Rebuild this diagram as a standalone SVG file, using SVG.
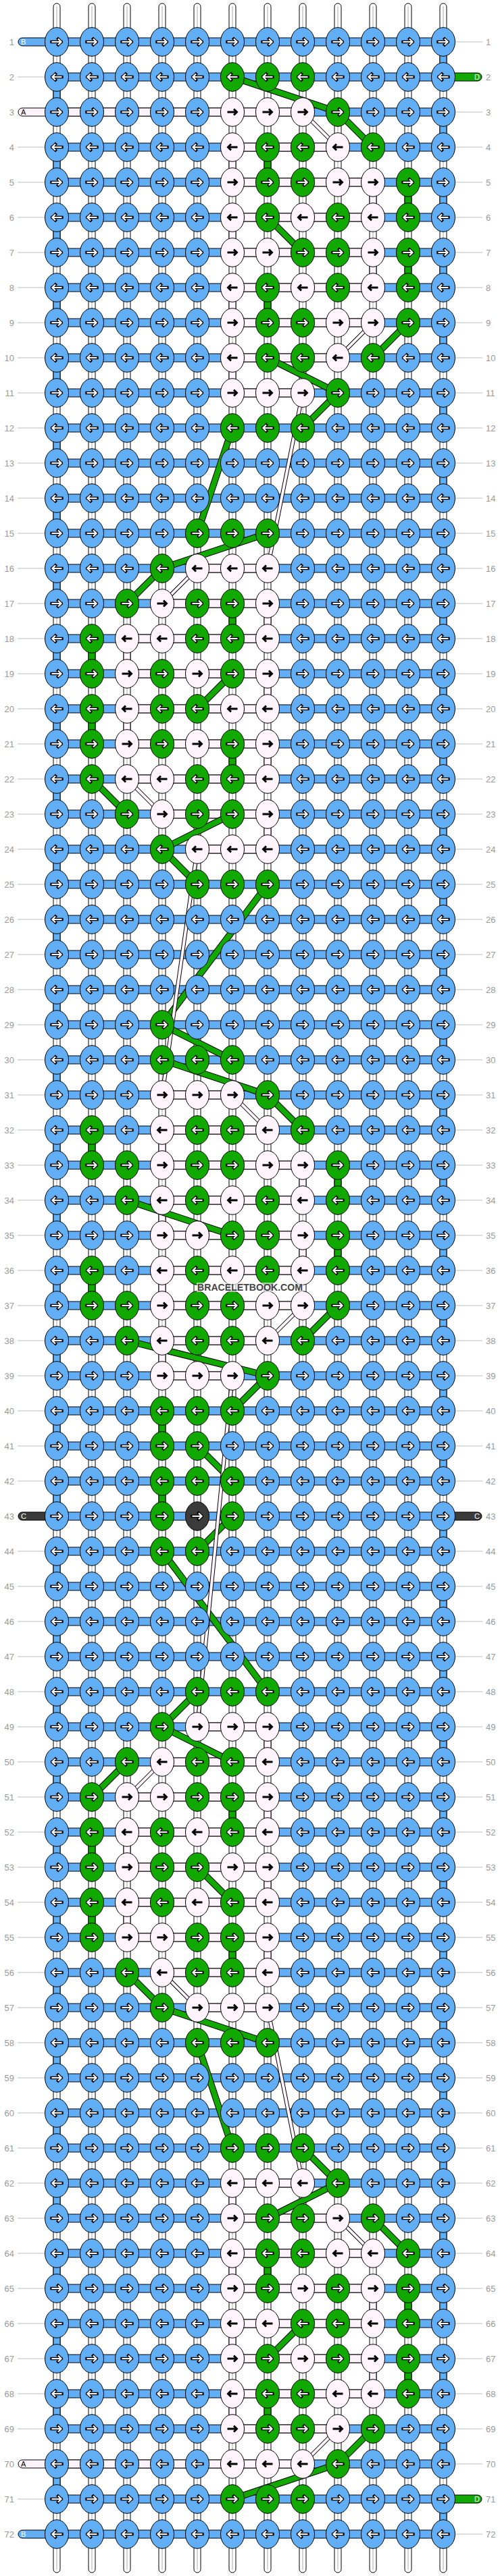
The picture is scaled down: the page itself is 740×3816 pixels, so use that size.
<svg xmlns="http://www.w3.org/2000/svg" xmlns:xlink="http://www.w3.org/1999/xlink" width="740" height="3816" viewBox="0 0 740 3816">
<style>
.kb{fill:#62aef5;stroke:#000;stroke-width:1}
.kg{fill:#11a800;stroke:#000;stroke-width:1}
.kw{fill:#fff4fc;stroke:#000;stroke-width:1}
.kk{fill:#3b3b3b;stroke:#000;stroke-width:1}
.ao{stroke:#000;stroke-width:4.4;stroke-linecap:square}
.ai{stroke:#fff;stroke-width:2.2}
.ab{stroke:#000;stroke-width:3}
.wp{fill:#fff;stroke:#000;stroke-width:1}
.wc{fill:none;stroke:#aaa;stroke-width:1}
.hb{fill:#62aef5;stroke:#000;stroke-width:1}
.ha{fill:#fff4fc;stroke:#000;stroke-width:1}
.vb{fill:#62aef5;stroke:#000;stroke-width:1}
.vg{fill:#11a800;stroke:#000;stroke-width:1}
.va{fill:#fff4fc;stroke:#000;stroke-width:1}
.sb{fill:#62aef5;stroke:#000;stroke-width:1}
.sg{fill:#11a800;stroke:#000;stroke-width:1}
.sk{fill:#3b3b3b;stroke:#000;stroke-width:1}
.gl{fill:none;stroke:#bbb;stroke-width:1}
.co{fill:none;stroke:#000;stroke-width:10}
.cg{fill:none;stroke:#11a800;stroke-width:8}
.wo{fill:none;stroke:#000;stroke-width:6}
.wf{fill:none;stroke:#fff4fc;stroke-width:4}
.ll{font:13px "Liberation Sans",Arial,sans-serif;fill:#999;text-anchor:end}
.rl{font:13px "Liberation Sans",Arial,sans-serif;fill:#999;text-anchor:start}
.sl{font:11px "Liberation Sans",Arial,sans-serif;fill:#fff}
.sa{font:11px "Liberation Sans",Arial,sans-serif;fill:#000}
</style>
<defs>
<path id="pr" d="M-7.5,0H6.5M2,-4.5L6.5,0L2,4.5" fill="none"/>
<path id="pl" d="M7.5,0H-6.5M-2,-4.5L-6.5,0L-2,4.5" fill="none"/>
<g id="bR"><ellipse rx="17.5" ry="21.3" class="kb"/><use href="#pr" class="ao"/><use href="#pr" class="ai"/></g>
<g id="bL"><ellipse rx="17.5" ry="21.3" class="kb"/><use href="#pl" class="ao"/><use href="#pl" class="ai"/></g>
<g id="gR"><ellipse rx="17.5" ry="21.3" class="kg"/><use href="#pr" class="ao"/><use href="#pr" class="ai"/></g>
<g id="gL"><ellipse rx="17.5" ry="21.3" class="kg"/><use href="#pl" class="ao"/><use href="#pl" class="ai"/></g>
<g id="wR"><ellipse rx="17.5" ry="21.3" class="kw"/><use href="#pr" class="ab"/></g>
<g id="wL"><ellipse rx="17.5" ry="21.3" class="kw"/><use href="#pl" class="ab"/></g>
<g id="kR"><ellipse rx="17.5" ry="21.3" class="kk"/><use href="#pr" class="ao"/><use href="#pr" class="ai"/></g>
<path id="gpath" d="M344,114L500,166M500,166L552,218M396,322L448,374M604,478L552,530M396,530L500,582M500,582L448,634M344,634L292,790M396,790L240,842M240,842L188,894M344,998L292,1050M136,1154L188,1206M344,1206L240,1258M240,1258L292,1310M396,1310L240,1518M240,1518L344,1570M240,1570L396,1622M396,1622L448,1674M188,1778L344,1830M500,1934L448,1986M188,1986L396,2038M396,2038L344,2090M292,2142L344,2194M344,2246L292,2298M240,2298L396,2506M292,2506L240,2558M240,2558L344,2610M188,2610L136,2662M292,2766L344,2818M188,2922L240,2974M240,2974L396,3026M292,3026L344,3182M448,3182L500,3234M500,3234L396,3286M552,3286L604,3338M448,3442L396,3494M552,3598L500,3650M500,3650L344,3702"/>
<path id="wpath" d="M448,166L500,218M552,478L500,530M448,582L396,842M292,842L240,894M188,1154L240,1206M292,1258L240,1622M344,1622L396,1674M448,1934L396,1986M344,2038L292,2558M240,2610L188,2662M240,2922L292,2974M396,2974L448,3234M500,3286L552,3338M500,3598L448,3650"/>
</defs>
<rect width="740" height="3816" fill="#fff"/>
<g id="warps">
<rect class="wp" x="79" y="5" width="10" height="3806" rx="5"/>
<rect class="wp" x="131" y="5" width="10" height="3806" rx="5"/>
<rect class="wp" x="183" y="5" width="10" height="3806" rx="5"/>
<rect class="wp" x="235" y="5" width="10" height="3806" rx="5"/>
<rect class="wp" x="287" y="5" width="10" height="3806" rx="5"/>
<rect class="wp" x="339" y="5" width="10" height="3806" rx="5"/>
<rect class="wp" x="391" y="5" width="10" height="3806" rx="5"/>
<rect class="wp" x="443" y="5" width="10" height="3806" rx="5"/>
<rect class="wp" x="495" y="5" width="10" height="3806" rx="5"/>
<rect class="wp" x="547" y="5" width="10" height="3806" rx="5"/>
<rect class="wp" x="599" y="5" width="10" height="3806" rx="5"/>
<rect class="wp" x="651" y="5" width="10" height="3806" rx="5"/>
<path class="wc" d="M84,9V3807M136,9V3807M188,9V3807M240,9V3807M292,9V3807M344,9V3807M396,9V3807M448,9V3807M500,9V3807M552,9V3807M604,9V3807M656,9V3807"/>
</g>
<g id="rowbars">
<path class="hb" d="M84,56h572v12h-572zm0,52h572v12h-572zm0,52h572v12h-572zm0,52h572v12h-572zm0,52h572v12h-572zm0,52h572v12h-572zm0,52h572v12h-572zm0,52h572v12h-572zm0,52h572v12h-572zm0,52h572v12h-572zm0,52h572v12h-572zm0,52h572v12h-572zm0,52h572v12h-572zm0,52h572v12h-572zm0,52h572v12h-572zm0,52h572v12h-572zm0,52h572v12h-572zm0,52h572v12h-572zm0,52h572v12h-572zm0,52h572v12h-572zm0,52h572v12h-572zm0,52h572v12h-572zm0,52h572v12h-572zm0,52h572v12h-572zm0,52h572v12h-572zm0,52h572v12h-572zm0,52h572v12h-572zm0,52h572v12h-572zm0,52h572v12h-572zm0,52h572v12h-572zm0,52h572v12h-572zm0,52h572v12h-572zm0,52h572v12h-572zm0,52h572v12h-572zm0,52h572v12h-572zm0,52h572v12h-572zm0,52h572v12h-572zm0,52h572v12h-572zm0,52h572v12h-572zm0,52h572v12h-572zm0,52h572v12h-572zm0,52h572v12h-572zm0,52h572v12h-572zm0,52h572v12h-572zm0,52h572v12h-572zm0,52h572v12h-572zm0,52h572v12h-572zm0,52h572v12h-572zm0,52h572v12h-572zm0,52h572v12h-572zm0,52h572v12h-572zm0,52h572v12h-572zm0,52h572v12h-572zm0,52h572v12h-572zm0,52h572v12h-572zm0,52h572v12h-572zm0,52h572v12h-572zm0,52h572v12h-572zm0,52h572v12h-572zm0,52h572v12h-572zm0,52h572v12h-572zm0,52h572v12h-572zm0,52h572v12h-572zm0,52h572v12h-572zm0,52h572v12h-572zm0,52h572v12h-572zm0,52h572v12h-572zm0,52h572v12h-572zm0,52h572v12h-572zm0,52h572v12h-572zm0,52h572v12h-572zm0,52h572v12h-572z"/>
</g>
<g id="stubs">
<rect class="sb" x="27" y="56" width="70" height="12" rx="6"/>
<rect class="sg" x="643" y="108" width="70" height="12" rx="6"/>
<rect class="sk" x="27" y="2240" width="70" height="12" rx="6"/>
<rect class="sk" x="643" y="2240" width="70" height="12" rx="6"/>
<rect class="sg" x="643" y="3696" width="70" height="12" rx="6"/>
<rect class="sb" x="27" y="3748" width="70" height="12" rx="6"/>
</g>
<g id="whitespans">
<rect class="ha" x="27" y="160" width="421" height="12" rx="6"/>
<rect class="ha" x="344" y="212" width="156" height="12"/>
<rect class="ha" x="344" y="264" width="208" height="12"/>
<rect class="ha" x="344" y="316" width="208" height="12"/>
<rect class="ha" x="344" y="368" width="208" height="12"/>
<rect class="ha" x="344" y="420" width="208" height="12"/>
<rect class="ha" x="344" y="472" width="208" height="12"/>
<rect class="ha" x="344" y="524" width="156" height="12"/>
<rect class="ha" x="344" y="576" width="104" height="12"/>
<rect class="ha" x="292" y="836" width="104" height="12"/>
<rect class="ha" x="240" y="888" width="156" height="12"/>
<rect class="ha" x="188" y="940" width="208" height="12"/>
<rect class="ha" x="188" y="992" width="208" height="12"/>
<rect class="ha" x="188" y="1044" width="208" height="12"/>
<rect class="ha" x="188" y="1096" width="208" height="12"/>
<rect class="ha" x="188" y="1148" width="208" height="12"/>
<rect class="ha" x="240" y="1200" width="156" height="12"/>
<rect class="ha" x="292" y="1252" width="104" height="12"/>
<rect class="ha" x="240" y="1616" width="104" height="12"/>
<rect class="ha" x="240" y="1668" width="156" height="12"/>
<rect class="ha" x="240" y="1720" width="208" height="12"/>
<rect class="ha" x="240" y="1772" width="208" height="12"/>
<rect class="ha" x="240" y="1824" width="208" height="12"/>
<rect class="ha" x="240" y="1876" width="208" height="12"/>
<rect class="ha" x="240" y="1928" width="208" height="12"/>
<rect class="ha" x="240" y="1980" width="156" height="12"/>
<rect class="ha" x="240" y="2032" width="104" height="12"/>
<rect class="ha" x="292" y="2552" width="104" height="12"/>
<rect class="ha" x="240" y="2604" width="156" height="12"/>
<rect class="ha" x="188" y="2656" width="208" height="12"/>
<rect class="ha" x="188" y="2708" width="208" height="12"/>
<rect class="ha" x="188" y="2760" width="208" height="12"/>
<rect class="ha" x="188" y="2812" width="208" height="12"/>
<rect class="ha" x="188" y="2864" width="208" height="12"/>
<rect class="ha" x="240" y="2916" width="156" height="12"/>
<rect class="ha" x="292" y="2968" width="104" height="12"/>
<rect class="ha" x="344" y="3228" width="104" height="12"/>
<rect class="ha" x="344" y="3280" width="156" height="12"/>
<rect class="ha" x="344" y="3332" width="208" height="12"/>
<rect class="ha" x="344" y="3384" width="208" height="12"/>
<rect class="ha" x="344" y="3436" width="208" height="12"/>
<rect class="ha" x="344" y="3488" width="208" height="12"/>
<rect class="ha" x="344" y="3540" width="208" height="12"/>
<rect class="ha" x="344" y="3592" width="156" height="12"/>
<rect class="ha" x="27" y="3644" width="421" height="12" rx="6"/>
</g>
<g id="connectors">
<path class="vb" d="M651,62h10v52h-10zm0,104h10v52h-10zm0,104h10v52h-10zm0,104h10v52h-10zm0,104h10v52h-10zm0,104h10v52h-10zm0,104h10v52h-10zm0,104h10v52h-10zm0,104h10v52h-10zm0,104h10v52h-10zm0,104h10v52h-10zm0,104h10v52h-10zm0,104h10v52h-10zm0,104h10v52h-10zm0,104h10v52h-10zm0,104h10v52h-10zm0,104h10v52h-10zm0,104h10v52h-10zm0,104h10v52h-10zm0,104h10v52h-10zm0,104h10v52h-10zm0,104h10v52h-10zm0,104h10v52h-10zm0,104h10v52h-10zm0,104h10v52h-10zm0,104h10v52h-10zm0,104h10v52h-10zm0,104h10v52h-10zm0,104h10v52h-10zm0,104h10v52h-10zm0,104h10v52h-10zm0,104h10v52h-10zm0,104h10v52h-10zm0,104h10v52h-10zm0,104h10v52h-10zm0,104h10v52h-10z"/>
<path class="vb" d="M79,114h10v52h-10zm0,104h10v52h-10zm0,104h10v52h-10zm0,104h10v52h-10zm0,104h10v52h-10zm0,104h10v52h-10zm0,104h10v52h-10zm0,104h10v52h-10zm0,104h10v52h-10zm0,104h10v52h-10zm0,104h10v52h-10zm0,104h10v52h-10zm0,104h10v52h-10zm0,104h10v52h-10zm0,104h10v52h-10zm0,104h10v52h-10zm0,104h10v52h-10zm0,104h10v52h-10zm0,104h10v52h-10zm0,104h10v52h-10zm0,104h10v52h-10zm0,104h10v52h-10zm0,104h10v52h-10zm0,104h10v52h-10zm0,104h10v52h-10zm0,104h10v52h-10zm0,104h10v52h-10zm0,104h10v52h-10zm0,104h10v52h-10zm0,104h10v52h-10zm0,104h10v52h-10zm0,104h10v52h-10zm0,104h10v52h-10zm0,104h10v52h-10zm0,104h10v52h-10z"/>
<g class="vg">
<rect x="391" y="218" width="10" height="52"/><rect x="599" y="270" width="10" height="52"/><rect x="599" y="374" width="10" height="52"/><rect x="391" y="426" width="10" height="52"/>
<rect x="339" y="894" width="10" height="52"/><rect x="131" y="946" width="10" height="52"/><rect x="131" y="1050" width="10" height="52"/><rect x="339" y="1102" width="10" height="52"/>
<rect x="131" y="1674" width="10" height="52"/><rect x="495" y="1726" width="10" height="52"/><rect x="495" y="1830" width="10" height="52"/><rect x="131" y="1882" width="10" height="52"/>
<rect x="235" y="2090" width="10" height="52"/><rect x="235" y="2194" width="10" height="52"/>
<rect x="339" y="2662" width="10" height="52"/><rect x="131" y="2714" width="10" height="52"/><rect x="131" y="2818" width="10" height="52"/><rect x="339" y="2870" width="10" height="52"/>
<rect x="391" y="3338" width="10" height="52"/><rect x="599" y="3390" width="10" height="52"/><rect x="599" y="3494" width="10" height="52"/><rect x="391" y="3546" width="10" height="52"/>
</g>
<g class="va">
<rect x="339" y="218" width="10" height="52"/><rect x="547" y="270" width="10" height="52"/><rect x="339" y="322" width="10" height="52"/><rect x="547" y="374" width="10" height="52"/><rect x="339" y="426" width="10" height="52"/><rect x="339" y="530" width="10" height="52"/>
<rect x="391" y="894" width="10" height="52"/><rect x="183" y="946" width="10" height="52"/><rect x="391" y="998" width="10" height="52"/><rect x="183" y="1050" width="10" height="52"/><rect x="391" y="1102" width="10" height="52"/><rect x="391" y="1206" width="10" height="52"/>
<rect x="235" y="1674" width="10" height="52"/><rect x="443" y="1726" width="10" height="52"/><rect x="235" y="1778" width="10" height="52"/><rect x="443" y="1830" width="10" height="52"/><rect x="235" y="1882" width="10" height="52"/><rect x="235" y="1986" width="10" height="52"/>
<rect x="391" y="2558" width="10" height="52"/><rect x="391" y="2662" width="10" height="52"/><rect x="183" y="2714" width="10" height="52"/><rect x="391" y="2766" width="10" height="52"/><rect x="183" y="2818" width="10" height="52"/><rect x="391" y="2870" width="10" height="52"/>
<rect x="339" y="3234" width="10" height="52"/><rect x="339" y="3338" width="10" height="52"/><rect x="547" y="3390" width="10" height="52"/><rect x="339" y="3442" width="10" height="52"/><rect x="547" y="3494" width="10" height="52"/><rect x="339" y="3546" width="10" height="52"/>
</g>
<use href="#gpath" class="co"/>
<use href="#gpath" class="cg"/>
<use href="#wpath" class="wo"/>
<use href="#wpath" class="wf"/>
</g>
<g id="knots">
<g id="row1" transform="translate(0,62)"><text class="ll" x="21" y="5">1</text><text class="rl" x="719" y="5">1</text><path class="gl" d="M673,0h41"/><text class="sl" x="31" y="4">B</text><use id="k1-1" href="#bR" x="84"/><use id="k1-2" href="#bR" x="136"/><use id="k1-3" href="#bR" x="188"/><use id="k1-4" href="#bR" x="240"/><use id="k1-5" href="#bR" x="292"/><use id="k1-6" href="#bR" x="344"/><use id="k1-7" href="#bR" x="396"/><use id="k1-8" href="#bR" x="448"/><use id="k1-9" href="#bR" x="500"/><use id="k1-10" href="#bR" x="552"/><use id="k1-11" href="#bR" x="604"/><use id="k1-12" href="#bR" x="656"/></g>
<g id="row2" transform="translate(0,114)"><text class="ll" x="21" y="5">2</text><text class="rl" x="719" y="5">2</text><path class="gl" d="M26,0h41"/><text class="sl" x="710" y="4" text-anchor="end">D</text><use id="k2-1" href="#bL" x="84"/><use id="k2-2" href="#bL" x="136"/><use id="k2-3" href="#bL" x="188"/><use id="k2-4" href="#bL" x="240"/><use id="k2-5" href="#bL" x="292"/><use id="k2-6" href="#gL" x="344"/><use id="k2-7" href="#gL" x="396"/><use id="k2-8" href="#gL" x="448"/><use id="k2-9" href="#bL" x="500"/><use id="k2-10" href="#bL" x="552"/><use id="k2-11" href="#bL" x="604"/><use id="k2-12" href="#bL" x="656"/></g>
<g id="row3" transform="translate(0,166)"><text class="ll" x="21" y="5">3</text><text class="rl" x="719" y="5">3</text><path class="gl" d="M673,0h41"/><text class="sa" x="31" y="4">A</text><use id="k3-1" href="#bR" x="84"/><use id="k3-2" href="#bR" x="136"/><use id="k3-3" href="#bR" x="188"/><use id="k3-4" href="#bR" x="240"/><use id="k3-5" href="#bR" x="292"/><use id="k3-6" href="#wR" x="344"/><use id="k3-7" href="#wR" x="396"/><use id="k3-8" href="#wR" x="448"/><use id="k3-9" href="#gR" x="500"/><use id="k3-10" href="#bR" x="552"/><use id="k3-11" href="#bR" x="604"/><use id="k3-12" href="#bR" x="656"/></g>
<g id="row4" transform="translate(0,218)"><text class="ll" x="21" y="5">4</text><text class="rl" x="719" y="5">4</text><path class="gl" d="M26,0h41M673,0h41"/><use id="k4-1" href="#bL" x="84"/><use id="k4-2" href="#bL" x="136"/><use id="k4-3" href="#bL" x="188"/><use id="k4-4" href="#bL" x="240"/><use id="k4-5" href="#bL" x="292"/><use id="k4-6" href="#wL" x="344"/><use id="k4-7" href="#gL" x="396"/><use id="k4-8" href="#gL" x="448"/><use id="k4-9" href="#wL" x="500"/><use id="k4-10" href="#gL" x="552"/><use id="k4-11" href="#bL" x="604"/><use id="k4-12" href="#bL" x="656"/></g>
<g id="row5" transform="translate(0,270)"><text class="ll" x="21" y="5">5</text><text class="rl" x="719" y="5">5</text><path class="gl" d="M26,0h41M673,0h41"/><use id="k5-1" href="#bR" x="84"/><use id="k5-2" href="#bR" x="136"/><use id="k5-3" href="#bR" x="188"/><use id="k5-4" href="#bR" x="240"/><use id="k5-5" href="#bR" x="292"/><use id="k5-6" href="#wR" x="344"/><use id="k5-7" href="#gR" x="396"/><use id="k5-8" href="#gR" x="448"/><use id="k5-9" href="#wR" x="500"/><use id="k5-10" href="#wR" x="552"/><use id="k5-11" href="#gR" x="604"/><use id="k5-12" href="#bR" x="656"/></g>
<g id="row6" transform="translate(0,322)"><text class="ll" x="21" y="5">6</text><text class="rl" x="719" y="5">6</text><path class="gl" d="M26,0h41M673,0h41"/><use id="k6-1" href="#bL" x="84"/><use id="k6-2" href="#bL" x="136"/><use id="k6-3" href="#bL" x="188"/><use id="k6-4" href="#bL" x="240"/><use id="k6-5" href="#bL" x="292"/><use id="k6-6" href="#wL" x="344"/><use id="k6-7" href="#gL" x="396"/><use id="k6-8" href="#wL" x="448"/><use id="k6-9" href="#gL" x="500"/><use id="k6-10" href="#wL" x="552"/><use id="k6-11" href="#gL" x="604"/><use id="k6-12" href="#bL" x="656"/></g>
<g id="row7" transform="translate(0,374)"><text class="ll" x="21" y="5">7</text><text class="rl" x="719" y="5">7</text><path class="gl" d="M26,0h41M673,0h41"/><use id="k7-1" href="#bR" x="84"/><use id="k7-2" href="#bR" x="136"/><use id="k7-3" href="#bR" x="188"/><use id="k7-4" href="#bR" x="240"/><use id="k7-5" href="#bR" x="292"/><use id="k7-6" href="#wR" x="344"/><use id="k7-7" href="#wR" x="396"/><use id="k7-8" href="#gR" x="448"/><use id="k7-9" href="#gR" x="500"/><use id="k7-10" href="#wR" x="552"/><use id="k7-11" href="#gR" x="604"/><use id="k7-12" href="#bR" x="656"/></g>
<g id="row8" transform="translate(0,426)"><text class="ll" x="21" y="5">8</text><text class="rl" x="719" y="5">8</text><path class="gl" d="M26,0h41M673,0h41"/><use id="k8-1" href="#bL" x="84"/><use id="k8-2" href="#bL" x="136"/><use id="k8-3" href="#bL" x="188"/><use id="k8-4" href="#bL" x="240"/><use id="k8-5" href="#bL" x="292"/><use id="k8-6" href="#wL" x="344"/><use id="k8-7" href="#gL" x="396"/><use id="k8-8" href="#wL" x="448"/><use id="k8-9" href="#gL" x="500"/><use id="k8-10" href="#wL" x="552"/><use id="k8-11" href="#gL" x="604"/><use id="k8-12" href="#bL" x="656"/></g>
<g id="row9" transform="translate(0,478)"><text class="ll" x="21" y="5">9</text><text class="rl" x="719" y="5">9</text><path class="gl" d="M26,0h41M673,0h41"/><use id="k9-1" href="#bR" x="84"/><use id="k9-2" href="#bR" x="136"/><use id="k9-3" href="#bR" x="188"/><use id="k9-4" href="#bR" x="240"/><use id="k9-5" href="#bR" x="292"/><use id="k9-6" href="#wR" x="344"/><use id="k9-7" href="#gR" x="396"/><use id="k9-8" href="#gR" x="448"/><use id="k9-9" href="#wR" x="500"/><use id="k9-10" href="#wR" x="552"/><use id="k9-11" href="#gR" x="604"/><use id="k9-12" href="#bR" x="656"/></g>
<g id="row10" transform="translate(0,530)"><text class="ll" x="21" y="5">10</text><text class="rl" x="719" y="5">10</text><path class="gl" d="M26,0h41M673,0h41"/><use id="k10-1" href="#bL" x="84"/><use id="k10-2" href="#bL" x="136"/><use id="k10-3" href="#bL" x="188"/><use id="k10-4" href="#bL" x="240"/><use id="k10-5" href="#bL" x="292"/><use id="k10-6" href="#wL" x="344"/><use id="k10-7" href="#gL" x="396"/><use id="k10-8" href="#gL" x="448"/><use id="k10-9" href="#wL" x="500"/><use id="k10-10" href="#gL" x="552"/><use id="k10-11" href="#bL" x="604"/><use id="k10-12" href="#bL" x="656"/></g>
<g id="row11" transform="translate(0,582)"><text class="ll" x="21" y="5">11</text><text class="rl" x="719" y="5">11</text><path class="gl" d="M26,0h41M673,0h41"/><use id="k11-1" href="#bR" x="84"/><use id="k11-2" href="#bR" x="136"/><use id="k11-3" href="#bR" x="188"/><use id="k11-4" href="#bR" x="240"/><use id="k11-5" href="#bR" x="292"/><use id="k11-6" href="#wR" x="344"/><use id="k11-7" href="#wR" x="396"/><use id="k11-8" href="#wR" x="448"/><use id="k11-9" href="#gR" x="500"/><use id="k11-10" href="#bR" x="552"/><use id="k11-11" href="#bR" x="604"/><use id="k11-12" href="#bR" x="656"/></g>
<g id="row12" transform="translate(0,634)"><text class="ll" x="21" y="5">12</text><text class="rl" x="719" y="5">12</text><path class="gl" d="M26,0h41M673,0h41"/><use id="k12-1" href="#bL" x="84"/><use id="k12-2" href="#bL" x="136"/><use id="k12-3" href="#bL" x="188"/><use id="k12-4" href="#bL" x="240"/><use id="k12-5" href="#bL" x="292"/><use id="k12-6" href="#gL" x="344"/><use id="k12-7" href="#gL" x="396"/><use id="k12-8" href="#gL" x="448"/><use id="k12-9" href="#bL" x="500"/><use id="k12-10" href="#bL" x="552"/><use id="k12-11" href="#bL" x="604"/><use id="k12-12" href="#bL" x="656"/></g>
<g id="row13" transform="translate(0,686)"><text class="ll" x="21" y="5">13</text><text class="rl" x="719" y="5">13</text><path class="gl" d="M26,0h41M673,0h41"/><use id="k13-1" href="#bR" x="84"/><use id="k13-2" href="#bR" x="136"/><use id="k13-3" href="#bR" x="188"/><use id="k13-4" href="#bR" x="240"/><use id="k13-5" href="#bR" x="292"/><use id="k13-6" href="#bR" x="344"/><use id="k13-7" href="#bR" x="396"/><use id="k13-8" href="#bR" x="448"/><use id="k13-9" href="#bR" x="500"/><use id="k13-10" href="#bR" x="552"/><use id="k13-11" href="#bR" x="604"/><use id="k13-12" href="#bR" x="656"/></g>
<g id="row14" transform="translate(0,738)"><text class="ll" x="21" y="5">14</text><text class="rl" x="719" y="5">14</text><path class="gl" d="M26,0h41M673,0h41"/><use id="k14-1" href="#bL" x="84"/><use id="k14-2" href="#bL" x="136"/><use id="k14-3" href="#bL" x="188"/><use id="k14-4" href="#bL" x="240"/><use id="k14-5" href="#bL" x="292"/><use id="k14-6" href="#bL" x="344"/><use id="k14-7" href="#bL" x="396"/><use id="k14-8" href="#bL" x="448"/><use id="k14-9" href="#bL" x="500"/><use id="k14-10" href="#bL" x="552"/><use id="k14-11" href="#bL" x="604"/><use id="k14-12" href="#bL" x="656"/></g>
<g id="row15" transform="translate(0,790)"><text class="ll" x="21" y="5">15</text><text class="rl" x="719" y="5">15</text><path class="gl" d="M26,0h41M673,0h41"/><use id="k15-1" href="#bR" x="84"/><use id="k15-2" href="#bR" x="136"/><use id="k15-3" href="#bR" x="188"/><use id="k15-4" href="#bR" x="240"/><use id="k15-5" href="#gR" x="292"/><use id="k15-6" href="#gR" x="344"/><use id="k15-7" href="#gR" x="396"/><use id="k15-8" href="#bR" x="448"/><use id="k15-9" href="#bR" x="500"/><use id="k15-10" href="#bR" x="552"/><use id="k15-11" href="#bR" x="604"/><use id="k15-12" href="#bR" x="656"/></g>
<g id="row16" transform="translate(0,842)"><text class="ll" x="21" y="5">16</text><text class="rl" x="719" y="5">16</text><path class="gl" d="M26,0h41M673,0h41"/><use id="k16-1" href="#bL" x="84"/><use id="k16-2" href="#bL" x="136"/><use id="k16-3" href="#bL" x="188"/><use id="k16-4" href="#gL" x="240"/><use id="k16-5" href="#wL" x="292"/><use id="k16-6" href="#wL" x="344"/><use id="k16-7" href="#wL" x="396"/><use id="k16-8" href="#bL" x="448"/><use id="k16-9" href="#bL" x="500"/><use id="k16-10" href="#bL" x="552"/><use id="k16-11" href="#bL" x="604"/><use id="k16-12" href="#bL" x="656"/></g>
<g id="row17" transform="translate(0,894)"><text class="ll" x="21" y="5">17</text><text class="rl" x="719" y="5">17</text><path class="gl" d="M26,0h41M673,0h41"/><use id="k17-1" href="#bR" x="84"/><use id="k17-2" href="#bR" x="136"/><use id="k17-3" href="#gR" x="188"/><use id="k17-4" href="#wR" x="240"/><use id="k17-5" href="#gR" x="292"/><use id="k17-6" href="#gR" x="344"/><use id="k17-7" href="#wR" x="396"/><use id="k17-8" href="#bR" x="448"/><use id="k17-9" href="#bR" x="500"/><use id="k17-10" href="#bR" x="552"/><use id="k17-11" href="#bR" x="604"/><use id="k17-12" href="#bR" x="656"/></g>
<g id="row18" transform="translate(0,946)"><text class="ll" x="21" y="5">18</text><text class="rl" x="719" y="5">18</text><path class="gl" d="M26,0h41M673,0h41"/><use id="k18-1" href="#bL" x="84"/><use id="k18-2" href="#gL" x="136"/><use id="k18-3" href="#wL" x="188"/><use id="k18-4" href="#wL" x="240"/><use id="k18-5" href="#gL" x="292"/><use id="k18-6" href="#gL" x="344"/><use id="k18-7" href="#wL" x="396"/><use id="k18-8" href="#bL" x="448"/><use id="k18-9" href="#bL" x="500"/><use id="k18-10" href="#bL" x="552"/><use id="k18-11" href="#bL" x="604"/><use id="k18-12" href="#bL" x="656"/></g>
<g id="row19" transform="translate(0,998)"><text class="ll" x="21" y="5">19</text><text class="rl" x="719" y="5">19</text><path class="gl" d="M26,0h41M673,0h41"/><use id="k19-1" href="#bR" x="84"/><use id="k19-2" href="#gR" x="136"/><use id="k19-3" href="#wR" x="188"/><use id="k19-4" href="#gR" x="240"/><use id="k19-5" href="#wR" x="292"/><use id="k19-6" href="#gR" x="344"/><use id="k19-7" href="#wR" x="396"/><use id="k19-8" href="#bR" x="448"/><use id="k19-9" href="#bR" x="500"/><use id="k19-10" href="#bR" x="552"/><use id="k19-11" href="#bR" x="604"/><use id="k19-12" href="#bR" x="656"/></g>
<g id="row20" transform="translate(0,1050)"><text class="ll" x="21" y="5">20</text><text class="rl" x="719" y="5">20</text><path class="gl" d="M26,0h41M673,0h41"/><use id="k20-1" href="#bL" x="84"/><use id="k20-2" href="#gL" x="136"/><use id="k20-3" href="#wL" x="188"/><use id="k20-4" href="#gL" x="240"/><use id="k20-5" href="#gL" x="292"/><use id="k20-6" href="#wL" x="344"/><use id="k20-7" href="#wL" x="396"/><use id="k20-8" href="#bL" x="448"/><use id="k20-9" href="#bL" x="500"/><use id="k20-10" href="#bL" x="552"/><use id="k20-11" href="#bL" x="604"/><use id="k20-12" href="#bL" x="656"/></g>
<g id="row21" transform="translate(0,1102)"><text class="ll" x="21" y="5">21</text><text class="rl" x="719" y="5">21</text><path class="gl" d="M26,0h41M673,0h41"/><use id="k21-1" href="#bR" x="84"/><use id="k21-2" href="#gR" x="136"/><use id="k21-3" href="#wR" x="188"/><use id="k21-4" href="#gR" x="240"/><use id="k21-5" href="#wR" x="292"/><use id="k21-6" href="#gR" x="344"/><use id="k21-7" href="#wR" x="396"/><use id="k21-8" href="#bR" x="448"/><use id="k21-9" href="#bR" x="500"/><use id="k21-10" href="#bR" x="552"/><use id="k21-11" href="#bR" x="604"/><use id="k21-12" href="#bR" x="656"/></g>
<g id="row22" transform="translate(0,1154)"><text class="ll" x="21" y="5">22</text><text class="rl" x="719" y="5">22</text><path class="gl" d="M26,0h41M673,0h41"/><use id="k22-1" href="#bL" x="84"/><use id="k22-2" href="#gL" x="136"/><use id="k22-3" href="#wL" x="188"/><use id="k22-4" href="#wL" x="240"/><use id="k22-5" href="#gL" x="292"/><use id="k22-6" href="#gL" x="344"/><use id="k22-7" href="#wL" x="396"/><use id="k22-8" href="#bL" x="448"/><use id="k22-9" href="#bL" x="500"/><use id="k22-10" href="#bL" x="552"/><use id="k22-11" href="#bL" x="604"/><use id="k22-12" href="#bL" x="656"/></g>
<g id="row23" transform="translate(0,1206)"><text class="ll" x="21" y="5">23</text><text class="rl" x="719" y="5">23</text><path class="gl" d="M26,0h41M673,0h41"/><use id="k23-1" href="#bR" x="84"/><use id="k23-2" href="#bR" x="136"/><use id="k23-3" href="#gR" x="188"/><use id="k23-4" href="#wR" x="240"/><use id="k23-5" href="#gR" x="292"/><use id="k23-6" href="#gR" x="344"/><use id="k23-7" href="#wR" x="396"/><use id="k23-8" href="#bR" x="448"/><use id="k23-9" href="#bR" x="500"/><use id="k23-10" href="#bR" x="552"/><use id="k23-11" href="#bR" x="604"/><use id="k23-12" href="#bR" x="656"/></g>
<g id="row24" transform="translate(0,1258)"><text class="ll" x="21" y="5">24</text><text class="rl" x="719" y="5">24</text><path class="gl" d="M26,0h41M673,0h41"/><use id="k24-1" href="#bL" x="84"/><use id="k24-2" href="#bL" x="136"/><use id="k24-3" href="#bL" x="188"/><use id="k24-4" href="#gL" x="240"/><use id="k24-5" href="#wL" x="292"/><use id="k24-6" href="#wL" x="344"/><use id="k24-7" href="#wL" x="396"/><use id="k24-8" href="#bL" x="448"/><use id="k24-9" href="#bL" x="500"/><use id="k24-10" href="#bL" x="552"/><use id="k24-11" href="#bL" x="604"/><use id="k24-12" href="#bL" x="656"/></g>
<g id="row25" transform="translate(0,1310)"><text class="ll" x="21" y="5">25</text><text class="rl" x="719" y="5">25</text><path class="gl" d="M26,0h41M673,0h41"/><use id="k25-1" href="#bR" x="84"/><use id="k25-2" href="#bR" x="136"/><use id="k25-3" href="#bR" x="188"/><use id="k25-4" href="#bR" x="240"/><use id="k25-5" href="#gR" x="292"/><use id="k25-6" href="#gR" x="344"/><use id="k25-7" href="#gR" x="396"/><use id="k25-8" href="#bR" x="448"/><use id="k25-9" href="#bR" x="500"/><use id="k25-10" href="#bR" x="552"/><use id="k25-11" href="#bR" x="604"/><use id="k25-12" href="#bR" x="656"/></g>
<g id="row26" transform="translate(0,1362)"><text class="ll" x="21" y="5">26</text><text class="rl" x="719" y="5">26</text><path class="gl" d="M26,0h41M673,0h41"/><use id="k26-1" href="#bL" x="84"/><use id="k26-2" href="#bL" x="136"/><use id="k26-3" href="#bL" x="188"/><use id="k26-4" href="#bL" x="240"/><use id="k26-5" href="#bL" x="292"/><use id="k26-6" href="#bL" x="344"/><use id="k26-7" href="#bL" x="396"/><use id="k26-8" href="#bL" x="448"/><use id="k26-9" href="#bL" x="500"/><use id="k26-10" href="#bL" x="552"/><use id="k26-11" href="#bL" x="604"/><use id="k26-12" href="#bL" x="656"/></g>
<g id="row27" transform="translate(0,1414)"><text class="ll" x="21" y="5">27</text><text class="rl" x="719" y="5">27</text><path class="gl" d="M26,0h41M673,0h41"/><use id="k27-1" href="#bR" x="84"/><use id="k27-2" href="#bR" x="136"/><use id="k27-3" href="#bR" x="188"/><use id="k27-4" href="#bR" x="240"/><use id="k27-5" href="#bR" x="292"/><use id="k27-6" href="#bR" x="344"/><use id="k27-7" href="#bR" x="396"/><use id="k27-8" href="#bR" x="448"/><use id="k27-9" href="#bR" x="500"/><use id="k27-10" href="#bR" x="552"/><use id="k27-11" href="#bR" x="604"/><use id="k27-12" href="#bR" x="656"/></g>
<g id="row28" transform="translate(0,1466)"><text class="ll" x="21" y="5">28</text><text class="rl" x="719" y="5">28</text><path class="gl" d="M26,0h41M673,0h41"/><use id="k28-1" href="#bL" x="84"/><use id="k28-2" href="#bL" x="136"/><use id="k28-3" href="#bL" x="188"/><use id="k28-4" href="#bL" x="240"/><use id="k28-5" href="#bL" x="292"/><use id="k28-6" href="#bL" x="344"/><use id="k28-7" href="#bL" x="396"/><use id="k28-8" href="#bL" x="448"/><use id="k28-9" href="#bL" x="500"/><use id="k28-10" href="#bL" x="552"/><use id="k28-11" href="#bL" x="604"/><use id="k28-12" href="#bL" x="656"/></g>
<g id="row29" transform="translate(0,1518)"><text class="ll" x="21" y="5">29</text><text class="rl" x="719" y="5">29</text><path class="gl" d="M26,0h41M673,0h41"/><use id="k29-1" href="#bR" x="84"/><use id="k29-2" href="#bR" x="136"/><use id="k29-3" href="#bR" x="188"/><use id="k29-4" href="#gR" x="240"/><use id="k29-5" href="#bR" x="292"/><use id="k29-6" href="#bR" x="344"/><use id="k29-7" href="#bR" x="396"/><use id="k29-8" href="#bR" x="448"/><use id="k29-9" href="#bR" x="500"/><use id="k29-10" href="#bR" x="552"/><use id="k29-11" href="#bR" x="604"/><use id="k29-12" href="#bR" x="656"/></g>
<g id="row30" transform="translate(0,1570)"><text class="ll" x="21" y="5">30</text><text class="rl" x="719" y="5">30</text><path class="gl" d="M26,0h41M673,0h41"/><use id="k30-1" href="#bL" x="84"/><use id="k30-2" href="#bL" x="136"/><use id="k30-3" href="#bL" x="188"/><use id="k30-4" href="#gL" x="240"/><use id="k30-5" href="#gL" x="292"/><use id="k30-6" href="#gL" x="344"/><use id="k30-7" href="#bL" x="396"/><use id="k30-8" href="#bL" x="448"/><use id="k30-9" href="#bL" x="500"/><use id="k30-10" href="#bL" x="552"/><use id="k30-11" href="#bL" x="604"/><use id="k30-12" href="#bL" x="656"/></g>
<g id="row31" transform="translate(0,1622)"><text class="ll" x="21" y="5">31</text><text class="rl" x="719" y="5">31</text><path class="gl" d="M26,0h41M673,0h41"/><use id="k31-1" href="#bR" x="84"/><use id="k31-2" href="#bR" x="136"/><use id="k31-3" href="#bR" x="188"/><use id="k31-4" href="#wR" x="240"/><use id="k31-5" href="#wR" x="292"/><use id="k31-6" href="#wR" x="344"/><use id="k31-7" href="#gR" x="396"/><use id="k31-8" href="#bR" x="448"/><use id="k31-9" href="#bR" x="500"/><use id="k31-10" href="#bR" x="552"/><use id="k31-11" href="#bR" x="604"/><use id="k31-12" href="#bR" x="656"/></g>
<g id="row32" transform="translate(0,1674)"><text class="ll" x="21" y="5">32</text><text class="rl" x="719" y="5">32</text><path class="gl" d="M26,0h41M673,0h41"/><use id="k32-1" href="#bL" x="84"/><use id="k32-2" href="#gL" x="136"/><use id="k32-3" href="#bL" x="188"/><use id="k32-4" href="#wL" x="240"/><use id="k32-5" href="#gL" x="292"/><use id="k32-6" href="#gL" x="344"/><use id="k32-7" href="#wL" x="396"/><use id="k32-8" href="#gL" x="448"/><use id="k32-9" href="#bL" x="500"/><use id="k32-10" href="#bL" x="552"/><use id="k32-11" href="#bL" x="604"/><use id="k32-12" href="#bL" x="656"/></g>
<g id="row33" transform="translate(0,1726)"><text class="ll" x="21" y="5">33</text><text class="rl" x="719" y="5">33</text><path class="gl" d="M26,0h41M673,0h41"/><use id="k33-1" href="#bR" x="84"/><use id="k33-2" href="#gR" x="136"/><use id="k33-3" href="#gR" x="188"/><use id="k33-4" href="#wR" x="240"/><use id="k33-5" href="#gR" x="292"/><use id="k33-6" href="#gR" x="344"/><use id="k33-7" href="#wR" x="396"/><use id="k33-8" href="#wR" x="448"/><use id="k33-9" href="#gR" x="500"/><use id="k33-10" href="#bR" x="552"/><use id="k33-11" href="#bR" x="604"/><use id="k33-12" href="#bR" x="656"/></g>
<g id="row34" transform="translate(0,1778)"><text class="ll" x="21" y="5">34</text><text class="rl" x="719" y="5">34</text><path class="gl" d="M26,0h41M673,0h41"/><use id="k34-1" href="#bL" x="84"/><use id="k34-2" href="#bL" x="136"/><use id="k34-3" href="#gL" x="188"/><use id="k34-4" href="#wL" x="240"/><use id="k34-5" href="#gL" x="292"/><use id="k34-6" href="#wL" x="344"/><use id="k34-7" href="#gL" x="396"/><use id="k34-8" href="#wL" x="448"/><use id="k34-9" href="#gL" x="500"/><use id="k34-10" href="#bL" x="552"/><use id="k34-11" href="#bL" x="604"/><use id="k34-12" href="#bL" x="656"/></g>
<g id="row35" transform="translate(0,1830)"><text class="ll" x="21" y="5">35</text><text class="rl" x="719" y="5">35</text><path class="gl" d="M26,0h41M673,0h41"/><use id="k35-1" href="#bR" x="84"/><use id="k35-2" href="#bR" x="136"/><use id="k35-3" href="#bR" x="188"/><use id="k35-4" href="#wR" x="240"/><use id="k35-5" href="#wR" x="292"/><use id="k35-6" href="#gR" x="344"/><use id="k35-7" href="#gR" x="396"/><use id="k35-8" href="#wR" x="448"/><use id="k35-9" href="#gR" x="500"/><use id="k35-10" href="#bR" x="552"/><use id="k35-11" href="#bR" x="604"/><use id="k35-12" href="#bR" x="656"/></g>
<g id="row36" transform="translate(0,1882)"><text class="ll" x="21" y="5">36</text><text class="rl" x="719" y="5">36</text><path class="gl" d="M26,0h41M673,0h41"/><use id="k36-1" href="#bL" x="84"/><use id="k36-2" href="#gL" x="136"/><use id="k36-3" href="#bL" x="188"/><use id="k36-4" href="#wL" x="240"/><use id="k36-5" href="#gL" x="292"/><use id="k36-6" href="#wL" x="344"/><use id="k36-7" href="#gL" x="396"/><use id="k36-8" href="#wL" x="448"/><use id="k36-9" href="#gL" x="500"/><use id="k36-10" href="#bL" x="552"/><use id="k36-11" href="#bL" x="604"/><use id="k36-12" href="#bL" x="656"/></g>
<g id="row37" transform="translate(0,1934)"><text class="ll" x="21" y="5">37</text><text class="rl" x="719" y="5">37</text><path class="gl" d="M26,0h41M673,0h41"/><use id="k37-1" href="#bR" x="84"/><use id="k37-2" href="#gR" x="136"/><use id="k37-3" href="#gR" x="188"/><use id="k37-4" href="#wR" x="240"/><use id="k37-5" href="#gR" x="292"/><use id="k37-6" href="#gR" x="344"/><use id="k37-7" href="#wR" x="396"/><use id="k37-8" href="#wR" x="448"/><use id="k37-9" href="#gR" x="500"/><use id="k37-10" href="#bR" x="552"/><use id="k37-11" href="#bR" x="604"/><use id="k37-12" href="#bR" x="656"/></g>
<g id="row38" transform="translate(0,1986)"><text class="ll" x="21" y="5">38</text><text class="rl" x="719" y="5">38</text><path class="gl" d="M26,0h41M673,0h41"/><use id="k38-1" href="#bL" x="84"/><use id="k38-2" href="#bL" x="136"/><use id="k38-3" href="#gL" x="188"/><use id="k38-4" href="#wL" x="240"/><use id="k38-5" href="#gL" x="292"/><use id="k38-6" href="#gL" x="344"/><use id="k38-7" href="#wL" x="396"/><use id="k38-8" href="#gL" x="448"/><use id="k38-9" href="#bL" x="500"/><use id="k38-10" href="#bL" x="552"/><use id="k38-11" href="#bL" x="604"/><use id="k38-12" href="#bL" x="656"/></g>
<g id="row39" transform="translate(0,2038)"><text class="ll" x="21" y="5">39</text><text class="rl" x="719" y="5">39</text><path class="gl" d="M26,0h41M673,0h41"/><use id="k39-1" href="#bR" x="84"/><use id="k39-2" href="#bR" x="136"/><use id="k39-3" href="#bR" x="188"/><use id="k39-4" href="#wR" x="240"/><use id="k39-5" href="#wR" x="292"/><use id="k39-6" href="#wR" x="344"/><use id="k39-7" href="#gR" x="396"/><use id="k39-8" href="#bR" x="448"/><use id="k39-9" href="#bR" x="500"/><use id="k39-10" href="#bR" x="552"/><use id="k39-11" href="#bR" x="604"/><use id="k39-12" href="#bR" x="656"/></g>
<g id="row40" transform="translate(0,2090)"><text class="ll" x="21" y="5">40</text><text class="rl" x="719" y="5">40</text><path class="gl" d="M26,0h41M673,0h41"/><use id="k40-1" href="#bL" x="84"/><use id="k40-2" href="#bL" x="136"/><use id="k40-3" href="#bL" x="188"/><use id="k40-4" href="#gL" x="240"/><use id="k40-5" href="#gL" x="292"/><use id="k40-6" href="#gL" x="344"/><use id="k40-7" href="#bL" x="396"/><use id="k40-8" href="#bL" x="448"/><use id="k40-9" href="#bL" x="500"/><use id="k40-10" href="#bL" x="552"/><use id="k40-11" href="#bL" x="604"/><use id="k40-12" href="#bL" x="656"/></g>
<g id="row41" transform="translate(0,2142)"><text class="ll" x="21" y="5">41</text><text class="rl" x="719" y="5">41</text><path class="gl" d="M26,0h41M673,0h41"/><use id="k41-1" href="#bR" x="84"/><use id="k41-2" href="#bR" x="136"/><use id="k41-3" href="#bR" x="188"/><use id="k41-4" href="#gR" x="240"/><use id="k41-5" href="#gR" x="292"/><use id="k41-6" href="#bR" x="344"/><use id="k41-7" href="#bR" x="396"/><use id="k41-8" href="#bR" x="448"/><use id="k41-9" href="#bR" x="500"/><use id="k41-10" href="#bR" x="552"/><use id="k41-11" href="#bR" x="604"/><use id="k41-12" href="#bR" x="656"/></g>
<g id="row42" transform="translate(0,2194)"><text class="ll" x="21" y="5">42</text><text class="rl" x="719" y="5">42</text><path class="gl" d="M26,0h41M673,0h41"/><use id="k42-1" href="#bL" x="84"/><use id="k42-2" href="#bL" x="136"/><use id="k42-3" href="#bL" x="188"/><use id="k42-4" href="#gL" x="240"/><use id="k42-5" href="#gL" x="292"/><use id="k42-6" href="#gL" x="344"/><use id="k42-7" href="#bL" x="396"/><use id="k42-8" href="#bL" x="448"/><use id="k42-9" href="#bL" x="500"/><use id="k42-10" href="#bL" x="552"/><use id="k42-11" href="#bL" x="604"/><use id="k42-12" href="#bL" x="656"/></g>
<g id="row43" transform="translate(0,2246)"><text class="ll" x="21" y="5">43</text><text class="rl" x="719" y="5">43</text><text class="sl" x="31" y="4">C</text><text class="sl" x="710" y="4" text-anchor="end">C</text><use id="k43-1" href="#bR" x="84"/><use id="k43-2" href="#bR" x="136"/><use id="k43-3" href="#bR" x="188"/><use id="k43-4" href="#gR" x="240"/><use id="k43-5" href="#kR" x="292"/><use id="k43-6" href="#gR" x="344"/><use id="k43-7" href="#bR" x="396"/><use id="k43-8" href="#bR" x="448"/><use id="k43-9" href="#bR" x="500"/><use id="k43-10" href="#bR" x="552"/><use id="k43-11" href="#bR" x="604"/><use id="k43-12" href="#bR" x="656"/></g>
<g id="row44" transform="translate(0,2298)"><text class="ll" x="21" y="5">44</text><text class="rl" x="719" y="5">44</text><path class="gl" d="M26,0h41M673,0h41"/><use id="k44-1" href="#bL" x="84"/><use id="k44-2" href="#bL" x="136"/><use id="k44-3" href="#bL" x="188"/><use id="k44-4" href="#gL" x="240"/><use id="k44-5" href="#gL" x="292"/><use id="k44-6" href="#bL" x="344"/><use id="k44-7" href="#bL" x="396"/><use id="k44-8" href="#bL" x="448"/><use id="k44-9" href="#bL" x="500"/><use id="k44-10" href="#bL" x="552"/><use id="k44-11" href="#bL" x="604"/><use id="k44-12" href="#bL" x="656"/></g>
<g id="row45" transform="translate(0,2350)"><text class="ll" x="21" y="5">45</text><text class="rl" x="719" y="5">45</text><path class="gl" d="M26,0h41M673,0h41"/><use id="k45-1" href="#bR" x="84"/><use id="k45-2" href="#bR" x="136"/><use id="k45-3" href="#bR" x="188"/><use id="k45-4" href="#bR" x="240"/><use id="k45-5" href="#bR" x="292"/><use id="k45-6" href="#bR" x="344"/><use id="k45-7" href="#bR" x="396"/><use id="k45-8" href="#bR" x="448"/><use id="k45-9" href="#bR" x="500"/><use id="k45-10" href="#bR" x="552"/><use id="k45-11" href="#bR" x="604"/><use id="k45-12" href="#bR" x="656"/></g>
<g id="row46" transform="translate(0,2402)"><text class="ll" x="21" y="5">46</text><text class="rl" x="719" y="5">46</text><path class="gl" d="M26,0h41M673,0h41"/><use id="k46-1" href="#bL" x="84"/><use id="k46-2" href="#bL" x="136"/><use id="k46-3" href="#bL" x="188"/><use id="k46-4" href="#bL" x="240"/><use id="k46-5" href="#bL" x="292"/><use id="k46-6" href="#bL" x="344"/><use id="k46-7" href="#bL" x="396"/><use id="k46-8" href="#bL" x="448"/><use id="k46-9" href="#bL" x="500"/><use id="k46-10" href="#bL" x="552"/><use id="k46-11" href="#bL" x="604"/><use id="k46-12" href="#bL" x="656"/></g>
<g id="row47" transform="translate(0,2454)"><text class="ll" x="21" y="5">47</text><text class="rl" x="719" y="5">47</text><path class="gl" d="M26,0h41M673,0h41"/><use id="k47-1" href="#bR" x="84"/><use id="k47-2" href="#bR" x="136"/><use id="k47-3" href="#bR" x="188"/><use id="k47-4" href="#bR" x="240"/><use id="k47-5" href="#bR" x="292"/><use id="k47-6" href="#bR" x="344"/><use id="k47-7" href="#bR" x="396"/><use id="k47-8" href="#bR" x="448"/><use id="k47-9" href="#bR" x="500"/><use id="k47-10" href="#bR" x="552"/><use id="k47-11" href="#bR" x="604"/><use id="k47-12" href="#bR" x="656"/></g>
<g id="row48" transform="translate(0,2506)"><text class="ll" x="21" y="5">48</text><text class="rl" x="719" y="5">48</text><path class="gl" d="M26,0h41M673,0h41"/><use id="k48-1" href="#bL" x="84"/><use id="k48-2" href="#bL" x="136"/><use id="k48-3" href="#bL" x="188"/><use id="k48-4" href="#bL" x="240"/><use id="k48-5" href="#gL" x="292"/><use id="k48-6" href="#gL" x="344"/><use id="k48-7" href="#gL" x="396"/><use id="k48-8" href="#bL" x="448"/><use id="k48-9" href="#bL" x="500"/><use id="k48-10" href="#bL" x="552"/><use id="k48-11" href="#bL" x="604"/><use id="k48-12" href="#bL" x="656"/></g>
<g id="row49" transform="translate(0,2558)"><text class="ll" x="21" y="5">49</text><text class="rl" x="719" y="5">49</text><path class="gl" d="M26,0h41M673,0h41"/><use id="k49-1" href="#bR" x="84"/><use id="k49-2" href="#bR" x="136"/><use id="k49-3" href="#bR" x="188"/><use id="k49-4" href="#gR" x="240"/><use id="k49-5" href="#wR" x="292"/><use id="k49-6" href="#wR" x="344"/><use id="k49-7" href="#wR" x="396"/><use id="k49-8" href="#bR" x="448"/><use id="k49-9" href="#bR" x="500"/><use id="k49-10" href="#bR" x="552"/><use id="k49-11" href="#bR" x="604"/><use id="k49-12" href="#bR" x="656"/></g>
<g id="row50" transform="translate(0,2610)"><text class="ll" x="21" y="5">50</text><text class="rl" x="719" y="5">50</text><path class="gl" d="M26,0h41M673,0h41"/><use id="k50-1" href="#bL" x="84"/><use id="k50-2" href="#bL" x="136"/><use id="k50-3" href="#gL" x="188"/><use id="k50-4" href="#wL" x="240"/><use id="k50-5" href="#gL" x="292"/><use id="k50-6" href="#gL" x="344"/><use id="k50-7" href="#wL" x="396"/><use id="k50-8" href="#bL" x="448"/><use id="k50-9" href="#bL" x="500"/><use id="k50-10" href="#bL" x="552"/><use id="k50-11" href="#bL" x="604"/><use id="k50-12" href="#bL" x="656"/></g>
<g id="row51" transform="translate(0,2662)"><text class="ll" x="21" y="5">51</text><text class="rl" x="719" y="5">51</text><path class="gl" d="M26,0h41M673,0h41"/><use id="k51-1" href="#bR" x="84"/><use id="k51-2" href="#gR" x="136"/><use id="k51-3" href="#wR" x="188"/><use id="k51-4" href="#wR" x="240"/><use id="k51-5" href="#gR" x="292"/><use id="k51-6" href="#gR" x="344"/><use id="k51-7" href="#wR" x="396"/><use id="k51-8" href="#bR" x="448"/><use id="k51-9" href="#bR" x="500"/><use id="k51-10" href="#bR" x="552"/><use id="k51-11" href="#bR" x="604"/><use id="k51-12" href="#bR" x="656"/></g>
<g id="row52" transform="translate(0,2714)"><text class="ll" x="21" y="5">52</text><text class="rl" x="719" y="5">52</text><path class="gl" d="M26,0h41M673,0h41"/><use id="k52-1" href="#bL" x="84"/><use id="k52-2" href="#gL" x="136"/><use id="k52-3" href="#wL" x="188"/><use id="k52-4" href="#gL" x="240"/><use id="k52-5" href="#wL" x="292"/><use id="k52-6" href="#gL" x="344"/><use id="k52-7" href="#wL" x="396"/><use id="k52-8" href="#bL" x="448"/><use id="k52-9" href="#bL" x="500"/><use id="k52-10" href="#bL" x="552"/><use id="k52-11" href="#bL" x="604"/><use id="k52-12" href="#bL" x="656"/></g>
<g id="row53" transform="translate(0,2766)"><text class="ll" x="21" y="5">53</text><text class="rl" x="719" y="5">53</text><path class="gl" d="M26,0h41M673,0h41"/><use id="k53-1" href="#bR" x="84"/><use id="k53-2" href="#gR" x="136"/><use id="k53-3" href="#wR" x="188"/><use id="k53-4" href="#gR" x="240"/><use id="k53-5" href="#gR" x="292"/><use id="k53-6" href="#wR" x="344"/><use id="k53-7" href="#wR" x="396"/><use id="k53-8" href="#bR" x="448"/><use id="k53-9" href="#bR" x="500"/><use id="k53-10" href="#bR" x="552"/><use id="k53-11" href="#bR" x="604"/><use id="k53-12" href="#bR" x="656"/></g>
<g id="row54" transform="translate(0,2818)"><text class="ll" x="21" y="5">54</text><text class="rl" x="719" y="5">54</text><path class="gl" d="M26,0h41M673,0h41"/><use id="k54-1" href="#bL" x="84"/><use id="k54-2" href="#gL" x="136"/><use id="k54-3" href="#wL" x="188"/><use id="k54-4" href="#gL" x="240"/><use id="k54-5" href="#wL" x="292"/><use id="k54-6" href="#gL" x="344"/><use id="k54-7" href="#wL" x="396"/><use id="k54-8" href="#bL" x="448"/><use id="k54-9" href="#bL" x="500"/><use id="k54-10" href="#bL" x="552"/><use id="k54-11" href="#bL" x="604"/><use id="k54-12" href="#bL" x="656"/></g>
<g id="row55" transform="translate(0,2870)"><text class="ll" x="21" y="5">55</text><text class="rl" x="719" y="5">55</text><path class="gl" d="M26,0h41M673,0h41"/><use id="k55-1" href="#bR" x="84"/><use id="k55-2" href="#gR" x="136"/><use id="k55-3" href="#wR" x="188"/><use id="k55-4" href="#wR" x="240"/><use id="k55-5" href="#gR" x="292"/><use id="k55-6" href="#gR" x="344"/><use id="k55-7" href="#wR" x="396"/><use id="k55-8" href="#bR" x="448"/><use id="k55-9" href="#bR" x="500"/><use id="k55-10" href="#bR" x="552"/><use id="k55-11" href="#bR" x="604"/><use id="k55-12" href="#bR" x="656"/></g>
<g id="row56" transform="translate(0,2922)"><text class="ll" x="21" y="5">56</text><text class="rl" x="719" y="5">56</text><path class="gl" d="M26,0h41M673,0h41"/><use id="k56-1" href="#bL" x="84"/><use id="k56-2" href="#bL" x="136"/><use id="k56-3" href="#gL" x="188"/><use id="k56-4" href="#wL" x="240"/><use id="k56-5" href="#gL" x="292"/><use id="k56-6" href="#gL" x="344"/><use id="k56-7" href="#wL" x="396"/><use id="k56-8" href="#bL" x="448"/><use id="k56-9" href="#bL" x="500"/><use id="k56-10" href="#bL" x="552"/><use id="k56-11" href="#bL" x="604"/><use id="k56-12" href="#bL" x="656"/></g>
<g id="row57" transform="translate(0,2974)"><text class="ll" x="21" y="5">57</text><text class="rl" x="719" y="5">57</text><path class="gl" d="M26,0h41M673,0h41"/><use id="k57-1" href="#bR" x="84"/><use id="k57-2" href="#bR" x="136"/><use id="k57-3" href="#bR" x="188"/><use id="k57-4" href="#gR" x="240"/><use id="k57-5" href="#wR" x="292"/><use id="k57-6" href="#wR" x="344"/><use id="k57-7" href="#wR" x="396"/><use id="k57-8" href="#bR" x="448"/><use id="k57-9" href="#bR" x="500"/><use id="k57-10" href="#bR" x="552"/><use id="k57-11" href="#bR" x="604"/><use id="k57-12" href="#bR" x="656"/></g>
<g id="row58" transform="translate(0,3026)"><text class="ll" x="21" y="5">58</text><text class="rl" x="719" y="5">58</text><path class="gl" d="M26,0h41M673,0h41"/><use id="k58-1" href="#bL" x="84"/><use id="k58-2" href="#bL" x="136"/><use id="k58-3" href="#bL" x="188"/><use id="k58-4" href="#bL" x="240"/><use id="k58-5" href="#gL" x="292"/><use id="k58-6" href="#gL" x="344"/><use id="k58-7" href="#gL" x="396"/><use id="k58-8" href="#bL" x="448"/><use id="k58-9" href="#bL" x="500"/><use id="k58-10" href="#bL" x="552"/><use id="k58-11" href="#bL" x="604"/><use id="k58-12" href="#bL" x="656"/></g>
<g id="row59" transform="translate(0,3078)"><text class="ll" x="21" y="5">59</text><text class="rl" x="719" y="5">59</text><path class="gl" d="M26,0h41M673,0h41"/><use id="k59-1" href="#bR" x="84"/><use id="k59-2" href="#bR" x="136"/><use id="k59-3" href="#bR" x="188"/><use id="k59-4" href="#bR" x="240"/><use id="k59-5" href="#bR" x="292"/><use id="k59-6" href="#bR" x="344"/><use id="k59-7" href="#bR" x="396"/><use id="k59-8" href="#bR" x="448"/><use id="k59-9" href="#bR" x="500"/><use id="k59-10" href="#bR" x="552"/><use id="k59-11" href="#bR" x="604"/><use id="k59-12" href="#bR" x="656"/></g>
<g id="row60" transform="translate(0,3130)"><text class="ll" x="21" y="5">60</text><text class="rl" x="719" y="5">60</text><path class="gl" d="M26,0h41M673,0h41"/><use id="k60-1" href="#bL" x="84"/><use id="k60-2" href="#bL" x="136"/><use id="k60-3" href="#bL" x="188"/><use id="k60-4" href="#bL" x="240"/><use id="k60-5" href="#bL" x="292"/><use id="k60-6" href="#bL" x="344"/><use id="k60-7" href="#bL" x="396"/><use id="k60-8" href="#bL" x="448"/><use id="k60-9" href="#bL" x="500"/><use id="k60-10" href="#bL" x="552"/><use id="k60-11" href="#bL" x="604"/><use id="k60-12" href="#bL" x="656"/></g>
<g id="row61" transform="translate(0,3182)"><text class="ll" x="21" y="5">61</text><text class="rl" x="719" y="5">61</text><path class="gl" d="M26,0h41M673,0h41"/><use id="k61-1" href="#bR" x="84"/><use id="k61-2" href="#bR" x="136"/><use id="k61-3" href="#bR" x="188"/><use id="k61-4" href="#bR" x="240"/><use id="k61-5" href="#bR" x="292"/><use id="k61-6" href="#gR" x="344"/><use id="k61-7" href="#gR" x="396"/><use id="k61-8" href="#gR" x="448"/><use id="k61-9" href="#bR" x="500"/><use id="k61-10" href="#bR" x="552"/><use id="k61-11" href="#bR" x="604"/><use id="k61-12" href="#bR" x="656"/></g>
<g id="row62" transform="translate(0,3234)"><text class="ll" x="21" y="5">62</text><text class="rl" x="719" y="5">62</text><path class="gl" d="M26,0h41M673,0h41"/><use id="k62-1" href="#bL" x="84"/><use id="k62-2" href="#bL" x="136"/><use id="k62-3" href="#bL" x="188"/><use id="k62-4" href="#bL" x="240"/><use id="k62-5" href="#bL" x="292"/><use id="k62-6" href="#wL" x="344"/><use id="k62-7" href="#wL" x="396"/><use id="k62-8" href="#wL" x="448"/><use id="k62-9" href="#gL" x="500"/><use id="k62-10" href="#bL" x="552"/><use id="k62-11" href="#bL" x="604"/><use id="k62-12" href="#bL" x="656"/></g>
<g id="row63" transform="translate(0,3286)"><text class="ll" x="21" y="5">63</text><text class="rl" x="719" y="5">63</text><path class="gl" d="M26,0h41M673,0h41"/><use id="k63-1" href="#bR" x="84"/><use id="k63-2" href="#bR" x="136"/><use id="k63-3" href="#bR" x="188"/><use id="k63-4" href="#bR" x="240"/><use id="k63-5" href="#bR" x="292"/><use id="k63-6" href="#wR" x="344"/><use id="k63-7" href="#gR" x="396"/><use id="k63-8" href="#gR" x="448"/><use id="k63-9" href="#wR" x="500"/><use id="k63-10" href="#gR" x="552"/><use id="k63-11" href="#bR" x="604"/><use id="k63-12" href="#bR" x="656"/></g>
<g id="row64" transform="translate(0,3338)"><text class="ll" x="21" y="5">64</text><text class="rl" x="719" y="5">64</text><path class="gl" d="M26,0h41M673,0h41"/><use id="k64-1" href="#bL" x="84"/><use id="k64-2" href="#bL" x="136"/><use id="k64-3" href="#bL" x="188"/><use id="k64-4" href="#bL" x="240"/><use id="k64-5" href="#bL" x="292"/><use id="k64-6" href="#wL" x="344"/><use id="k64-7" href="#gL" x="396"/><use id="k64-8" href="#gL" x="448"/><use id="k64-9" href="#wL" x="500"/><use id="k64-10" href="#wL" x="552"/><use id="k64-11" href="#gL" x="604"/><use id="k64-12" href="#bL" x="656"/></g>
<g id="row65" transform="translate(0,3390)"><text class="ll" x="21" y="5">65</text><text class="rl" x="719" y="5">65</text><path class="gl" d="M26,0h41M673,0h41"/><use id="k65-1" href="#bR" x="84"/><use id="k65-2" href="#bR" x="136"/><use id="k65-3" href="#bR" x="188"/><use id="k65-4" href="#bR" x="240"/><use id="k65-5" href="#bR" x="292"/><use id="k65-6" href="#wR" x="344"/><use id="k65-7" href="#gR" x="396"/><use id="k65-8" href="#wR" x="448"/><use id="k65-9" href="#gR" x="500"/><use id="k65-10" href="#wR" x="552"/><use id="k65-11" href="#gR" x="604"/><use id="k65-12" href="#bR" x="656"/></g>
<g id="row66" transform="translate(0,3442)"><text class="ll" x="21" y="5">66</text><text class="rl" x="719" y="5">66</text><path class="gl" d="M26,0h41M673,0h41"/><use id="k66-1" href="#bL" x="84"/><use id="k66-2" href="#bL" x="136"/><use id="k66-3" href="#bL" x="188"/><use id="k66-4" href="#bL" x="240"/><use id="k66-5" href="#bL" x="292"/><use id="k66-6" href="#wL" x="344"/><use id="k66-7" href="#wL" x="396"/><use id="k66-8" href="#gL" x="448"/><use id="k66-9" href="#gL" x="500"/><use id="k66-10" href="#wL" x="552"/><use id="k66-11" href="#gL" x="604"/><use id="k66-12" href="#bL" x="656"/></g>
<g id="row67" transform="translate(0,3494)"><text class="ll" x="21" y="5">67</text><text class="rl" x="719" y="5">67</text><path class="gl" d="M26,0h41M673,0h41"/><use id="k67-1" href="#bR" x="84"/><use id="k67-2" href="#bR" x="136"/><use id="k67-3" href="#bR" x="188"/><use id="k67-4" href="#bR" x="240"/><use id="k67-5" href="#bR" x="292"/><use id="k67-6" href="#wR" x="344"/><use id="k67-7" href="#gR" x="396"/><use id="k67-8" href="#wR" x="448"/><use id="k67-9" href="#gR" x="500"/><use id="k67-10" href="#wR" x="552"/><use id="k67-11" href="#gR" x="604"/><use id="k67-12" href="#bR" x="656"/></g>
<g id="row68" transform="translate(0,3546)"><text class="ll" x="21" y="5">68</text><text class="rl" x="719" y="5">68</text><path class="gl" d="M26,0h41M673,0h41"/><use id="k68-1" href="#bL" x="84"/><use id="k68-2" href="#bL" x="136"/><use id="k68-3" href="#bL" x="188"/><use id="k68-4" href="#bL" x="240"/><use id="k68-5" href="#bL" x="292"/><use id="k68-6" href="#wL" x="344"/><use id="k68-7" href="#gL" x="396"/><use id="k68-8" href="#gL" x="448"/><use id="k68-9" href="#wL" x="500"/><use id="k68-10" href="#wL" x="552"/><use id="k68-11" href="#gL" x="604"/><use id="k68-12" href="#bL" x="656"/></g>
<g id="row69" transform="translate(0,3598)"><text class="ll" x="21" y="5">69</text><text class="rl" x="719" y="5">69</text><path class="gl" d="M26,0h41M673,0h41"/><use id="k69-1" href="#bR" x="84"/><use id="k69-2" href="#bR" x="136"/><use id="k69-3" href="#bR" x="188"/><use id="k69-4" href="#bR" x="240"/><use id="k69-5" href="#bR" x="292"/><use id="k69-6" href="#wR" x="344"/><use id="k69-7" href="#gR" x="396"/><use id="k69-8" href="#gR" x="448"/><use id="k69-9" href="#wR" x="500"/><use id="k69-10" href="#gR" x="552"/><use id="k69-11" href="#bR" x="604"/><use id="k69-12" href="#bR" x="656"/></g>
<g id="row70" transform="translate(0,3650)"><text class="ll" x="21" y="5">70</text><text class="rl" x="719" y="5">70</text><path class="gl" d="M673,0h41"/><text class="sa" x="31" y="4">A</text><use id="k70-1" href="#bL" x="84"/><use id="k70-2" href="#bL" x="136"/><use id="k70-3" href="#bL" x="188"/><use id="k70-4" href="#bL" x="240"/><use id="k70-5" href="#bL" x="292"/><use id="k70-6" href="#wL" x="344"/><use id="k70-7" href="#wL" x="396"/><use id="k70-8" href="#wL" x="448"/><use id="k70-9" href="#gL" x="500"/><use id="k70-10" href="#bL" x="552"/><use id="k70-11" href="#bL" x="604"/><use id="k70-12" href="#bL" x="656"/></g>
<g id="row71" transform="translate(0,3702)"><text class="ll" x="21" y="5">71</text><text class="rl" x="719" y="5">71</text><path class="gl" d="M26,0h41"/><text class="sl" x="710" y="4" text-anchor="end">D</text><use id="k71-1" href="#bR" x="84"/><use id="k71-2" href="#bR" x="136"/><use id="k71-3" href="#bR" x="188"/><use id="k71-4" href="#bR" x="240"/><use id="k71-5" href="#bR" x="292"/><use id="k71-6" href="#gR" x="344"/><use id="k71-7" href="#gR" x="396"/><use id="k71-8" href="#gR" x="448"/><use id="k71-9" href="#bR" x="500"/><use id="k71-10" href="#bR" x="552"/><use id="k71-11" href="#bR" x="604"/><use id="k71-12" href="#bR" x="656"/></g>
<g id="row72" transform="translate(0,3754)"><text class="ll" x="21" y="5">72</text><text class="rl" x="719" y="5">72</text><path class="gl" d="M673,0h41"/><text class="sl" x="31" y="4">B</text><use id="k72-1" href="#bL" x="84"/><use id="k72-2" href="#bL" x="136"/><use id="k72-3" href="#bL" x="188"/><use id="k72-4" href="#bL" x="240"/><use id="k72-5" href="#bL" x="292"/><use id="k72-6" href="#bL" x="344"/><use id="k72-7" href="#bL" x="396"/><use id="k72-8" href="#bL" x="448"/><use id="k72-9" href="#bL" x="500"/><use id="k72-10" href="#bL" x="552"/><use id="k72-11" href="#bL" x="604"/><use id="k72-12" href="#bL" x="656"/></g>
</g>
<g id="watermark">
<rect x="291" y="1900" width="158" height="14" fill="#fff" opacity="0.6"/>
<text x="370" y="1912" text-anchor="middle" font-family="Liberation Sans, Arial, sans-serif" font-weight="bold" font-size="14" fill="#444" textLength="156" lengthAdjust="spacingAndGlyphs">BRACELETBOOK.COM</text>
</g>
</svg>
